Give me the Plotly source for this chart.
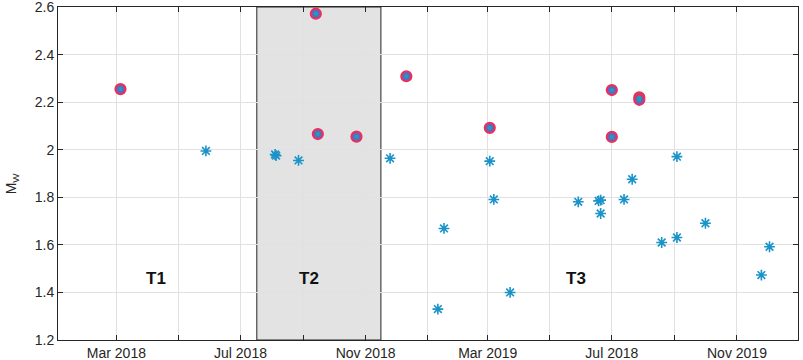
import plotly.graph_objects as go

# ---- data ----
star_dates = ["2018-05-28", "2018-08-04", "2018-08-05", "2018-08-27", "2018-11-25",
              "2019-01-11", "2019-01-17", "2019-03-03", "2019-03-07", "2019-03-23",
              "2019-05-29", "2019-06-18", "2019-06-20", "2019-06-20", "2019-07-13",
              "2019-07-21", "2019-08-19", "2019-09-03", "2019-09-03", "2019-10-01",
              "2019-11-25", "2019-12-03"]
star_mw = [1.995, 1.98, 1.975, 1.955, 1.964,
           1.33, 1.669, 1.952, 1.791, 1.40,
           1.781, 1.785, 1.788, 1.732, 1.791,
           1.876, 1.61, 1.971, 1.631, 1.691,
           1.473, 1.592]

big_dates = ["2018-03-05", "2018-09-13", "2018-09-15", "2018-10-23", "2018-12-11",
             "2019-03-03", "2019-07-01", "2019-07-01", "2019-07-28", "2019-07-28"]
big_mw = [2.255, 2.572, 2.066, 2.055, 2.309,
          2.092, 2.251, 2.054, 2.22, 2.21]

tick_dates = ["2018-03-01", "2018-05-01", "2018-07-01", "2018-09-01", "2018-11-01",
              "2019-01-01", "2019-03-01", "2019-05-01", "2019-07-01", "2019-09-01",
              "2019-11-01"]
tick_labels = ["Mar 2018", "", "Jul 2018", "", "Nov 2018",
               "", "Mar 2019", "", "Jul 2018", "", "Nov 2019"]

y_ticks = [1.2, 1.4, 1.6, 1.8, 2.0, 2.2, 2.4, 2.6]
y_labels = ["1.2", "1.4", "1.6", "1.8", "2", "2.2", "2.4", "2.6"]

period_start = "2018-07-17"
period_end = "2018-11-16"

period_labels = ["T1", "T2", "T3"]
period_label_dates = ["2018-04-09", "2018-09-06", "2019-05-27"]
period_label_y = [1.46, 1.46, 1.46]

x_range = ["2018-01-02 14:00", "2019-12-31"]
y_range = [1.2, 2.6002]

STAR = "#1a93c8"
RING = "#e8305a"
FRAME = "#262626"
GRID = "#e1e1e1"
FONT = "Liberation Sans, Arial, sans-serif"

fig = go.Figure()

fig.add_trace(go.Scatter(
    x=star_dates, y=star_mw, mode="markers",
    marker=dict(symbol="asterisk-open", size=9, color=STAR,
                line=dict(color=STAR, width=1.6)),
    showlegend=False, hoverinfo="x+y"))

fig.add_trace(go.Scatter(
    x=big_dates, y=big_mw, mode="markers",
    marker=dict(symbol="circle", size=10, color="#5a6ac4",
                line=dict(color=RING, width=2.2)),
    showlegend=False, hoverinfo="x+y"))

fig.add_trace(go.Scatter(
    x=big_dates, y=big_mw, mode="markers",
    marker=dict(symbol="circle", size=4, color="#1aa3b8",
                line=dict(width=0)),
    showlegend=False, hoverinfo="skip"))

fig.add_shape(type="rect", xref="x", yref="y",
              x0=period_start, x1=period_end, y0=y_range[0], y1=y_range[1],
              fillcolor="#e3e3e3", line=dict(color=FRAME, width=1), layer="below")

for lab, d, yv in zip(period_labels, period_label_dates, period_label_y):
    fig.add_annotation(x=d, y=yv, xref="x", yref="y", text="<b>%s</b>" % lab,
                       showarrow=False, font=dict(family=FONT, size=17, color="#111111"))

fig.add_annotation(x=-0.061, y=0.47, xref="paper", yref="paper",
                   xanchor="center", yanchor="middle",
                   text="M<sub>W</sub>", textangle=-90, showarrow=False,
                   font=dict(family=FONT, size=14, color="#262626"))

fig.update_xaxes(
    type="date", range=x_range, automargin=False,
    tickmode="array", tickvals=tick_dates, ticktext=tick_labels,
    ticks="inside", ticklen=5, tickcolor=FRAME, tickwidth=1,
    showline=True, linecolor=FRAME, linewidth=1, mirror="ticks",
    showgrid=True, gridcolor=GRID, gridwidth=1, zeroline=False,
    ticklabeloverflow="allow",
    tickfont=dict(family=FONT, size=14, color="#262626"))

fig.update_yaxes(
    range=y_range, automargin=False,
    tickmode="array", tickvals=y_ticks, ticktext=y_labels,
    ticks="inside", ticklen=5, tickcolor=FRAME, tickwidth=1,
    showline=True, linecolor=FRAME, linewidth=1, mirror="ticks",
    showgrid=True, gridcolor=GRID, gridwidth=1, zeroline=False,
    ticklabeloverflow="allow",
    tickfont=dict(family=FONT, size=14, color="#262626"))

fig.update_layout(
    width=803, height=360,
    margin=dict(l=58, r=5, t=7, b=20),
    plot_bgcolor="white", paper_bgcolor="white",
    font=dict(family=FONT))

fig.write_html("out.html", config={"displayModeBar": False},
               post_script="document.body.style.margin='0';document.body.style.overflow='hidden';")
